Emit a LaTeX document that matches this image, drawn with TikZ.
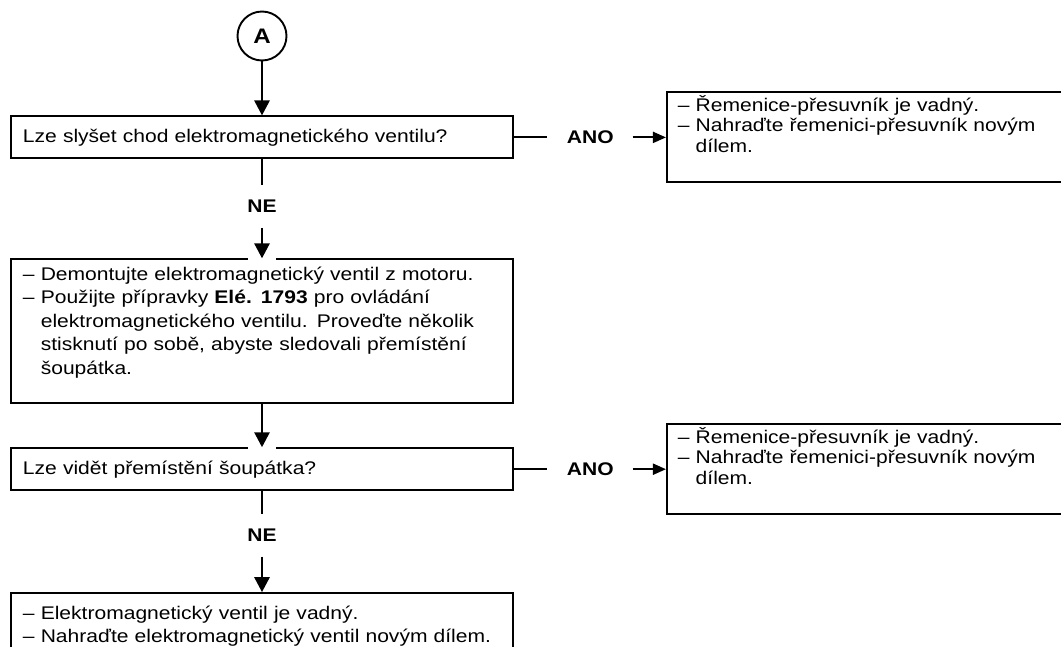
\documentclass[tikz,border=0pt]{standalone}
\usepackage{fontspec}
\setmainfont{Liberation Sans}[FakeStretch=1.15]
\usetikzlibrary{positioning,arrows.meta}

\begin{document}
\begin{tikzpicture}[x=1pt, y=-1pt,
					line width=1.9pt,
					font=\fontsize{18.3}{23.5}\selectfont,
					ask node/.style={rectangle,draw,text width=478pt,inner xsep=12pt,minimum height=42pt,align=left},
					do node/.style={rectangle,draw,text width=478pt,inner xsep=12pt,align=left},
					fix node/.style={rectangle,draw,text width=377pt,inner xsep=11pt,inner ysep=2pt,minimum height=90pt,align=left,
					                 text depth=68pt,font=\fontsize{18.3}{20.5}\selectfont},
					start node/.style={circle,draw,minimum size=49pt,inner sep=0pt,font=\fontsize{21}{21}\selectfont\bfseries},
					answer/.style={inner sep=2pt,font=\fontsize{18.3}{18}\selectfont\bfseries},
					go/.style={-{Triangle[width=15pt,length=15pt]},line width=2.8pt},
					yes/.style={-{Triangle[width=11pt,length=13pt]},line width=2pt}]

  \useasboundingbox (0,0) rectangle (1061,646);
  \clip (0,0) rectangle (1061,646);

  \node[start node] (A) at (262,36) {A};
  \node[ask node] (Q1) [below=54pt of A] {Lze slyšet chod elektromagnetického ventilu?};
  \node[answer] (ne1) [below=38pt of Q1] {NE};
  \node[do node,minimum height=144pt,text depth=116pt,inner ysep=3pt] (S1) [below=99pt of Q1]
    {– Demontujte elektromagnetický ventil z motoru.\\
     – Použijte přípravky \textbf{Elé. 1793} pro ovládání\\
     \phantom{– }elektromagnetického ventilu. Proveďte několik\\
     \phantom{– }stisknutí po sobě, abyste sledovali přemístění\\
     \phantom{– }šoupátka.};
  \node[ask node] (Q2) [below=43pt of S1] {Lze vidět přemístění šoupátka?};
  \node[answer] (ne2) [below=35pt of Q2] {NE};
  \node[do node,minimum height=66pt] (S3) [below=101pt of Q2]
    {– Elektromagnetický ventil je vadný.\\
     – Nahraďte elektromagnetický ventil novým dílem.};

  \node[answer] (ano1) [right=50pt of Q1] {ANO};
  \node[fix node] (R1) [right=152pt of Q1]
    {– Řemenice-přesuvník je vadný.\\
     – Nahraďte řemenici-přesuvník novým\\
     \phantom{– }dílem.};
  \node[answer] (ano2) [right=50pt of Q2] {ANO};
  \node[fix node] (R2) [right=152pt of Q2]
    {– Řemenice-přesuvník je vadný.\\
     – Nahraďte řemenici-přesuvník novým\\
     \phantom{– }dílem.};

  % gaps in the top border under the arrow tips
  \draw[white,line width=3.5pt] ([xshift=-14pt]S1.north) -- ([xshift=14pt]S1.north);
  \draw[white,line width=3.5pt] ([xshift=-14pt]Q2.north) -- ([xshift=14pt]Q2.north);

  \draw[go] (A) -- (Q1);
  \draw (Q1) -- (ne1) [shorten >=12pt];
  \draw[go,shorten <=12pt] (ne1) -- (S1);
  \draw[go] (S1) -- (Q2);
  \draw[shorten >=12pt] (Q2) -- (ne2);
  \draw[go,shorten <=12pt] (ne2) -- (S3);

  \draw[shorten >=17pt] (Q1) -- (ano1);
  \draw[yes,shorten <=16pt] (ano1) -- (R1);
  \draw[shorten >=17pt] (Q2) -- (ano2);
  \draw[yes,shorten <=16pt] (ano2) -- (R2);
\end{tikzpicture}
\end{document}
